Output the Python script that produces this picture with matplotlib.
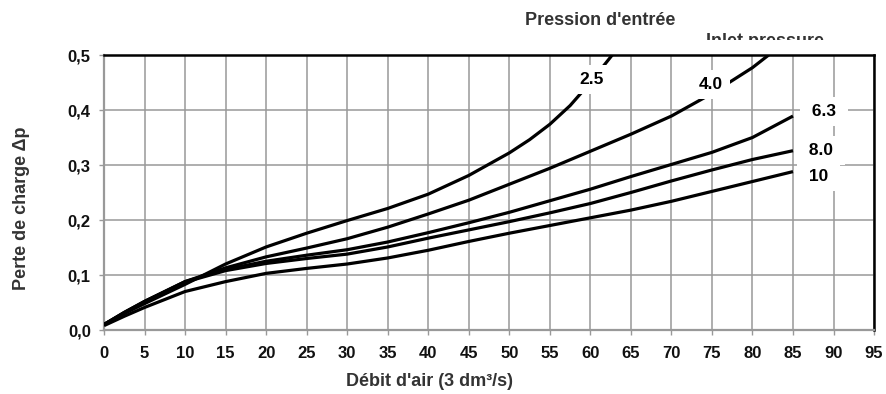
import matplotlib.pyplot as plt
from matplotlib.patches import Rectangle

# Perte de charge vs debit d'air, pour differentes pressions d'entree
x_25 = [0, 2.5, 5, 10, 15, 20, 25, 30, 35, 40, 45, 50, 52.5, 55, 57.5, 60, 62.7]
y_25 = [0.01, 0.03, 0.048, 0.083, 0.12, 0.151, 0.176, 0.199, 0.221, 0.247,
        0.281, 0.322, 0.346, 0.374, 0.408, 0.45, 0.5]

x_40 = [0, 2.5, 5, 10, 15, 20, 25, 30, 35, 40, 45, 50, 55, 60, 65, 70, 75, 80, 82]
y_40 = [0.01, 0.032, 0.052, 0.088, 0.113, 0.133, 0.149, 0.166, 0.187, 0.211,
        0.236, 0.265, 0.294, 0.325, 0.356, 0.389, 0.43, 0.477, 0.5]

x_63 = [0, 2.5, 5, 10, 15, 20, 25, 30, 35, 40, 45, 50, 55, 60, 65, 70, 75, 80, 85]
y_63 = [0.01, 0.032, 0.052, 0.088, 0.11, 0.125, 0.136, 0.146, 0.16, 0.177,
        0.195, 0.214, 0.235, 0.256, 0.279, 0.301, 0.323, 0.35, 0.389]

x_80 = [0, 2.5, 5, 10, 15, 20, 25, 30, 35, 40, 45, 50, 55, 60, 65, 70, 75, 80, 85]
y_80 = [0.01, 0.031, 0.051, 0.087, 0.108, 0.121, 0.13, 0.138, 0.151, 0.167,
        0.182, 0.197, 0.213, 0.23, 0.25, 0.271, 0.291, 0.31, 0.326]

x_10 = [0, 2.5, 5, 10, 15, 20, 25, 30, 35, 40, 45, 50, 55, 60, 65, 70, 75, 80, 85]
y_10 = [0.008, 0.025, 0.041, 0.07, 0.088, 0.103, 0.112, 0.12, 0.131, 0.145,
        0.161, 0.176, 0.19, 0.204, 0.218, 0.234, 0.252, 0.27, 0.288]

curve_labels = ["2.5", "4.0", "6.3", "8.0", "10"]
x_ticks = list(range(0, 100, 5))
y_ticks = [0.0, 0.1, 0.2, 0.3, 0.4, 0.5]
y_tick_labels = ["0,0", "0,1", "0,2", "0,3", "0,4", "0,5"]

plt.rcParams['font.family'] = ['Liberation Sans', 'DejaVu Sans']
plt.rcParams['font.weight'] = 'bold'

fig = plt.figure(figsize=(8.86, 3.94), dpi=100)
ax = fig.add_axes([0.1174, 0.1624, 0.8691, 0.698])

for xs, ys in [(x_25, y_25), (x_40, y_40), (x_63, y_63), (x_80, y_80), (x_10, y_10)]:
    ax.plot(xs, ys, color='black', lw=2.3, solid_capstyle='butt', zorder=3)

ax.set_xlim(0, 95)
ax.set_ylim(0, 0.5)
ax.set_xticks(x_ticks)
ax.set_yticks(y_ticks)
ax.set_yticklabels(y_tick_labels)
ax.grid(True, color='#999999', lw=1.1, zorder=1)
ax.set_axisbelow(True)
ax.tick_params(axis='both', length=3.5, width=1, color='#999999', pad=6,
               labelsize=12, labelcolor='#111111')
ax.tick_params(axis='x', pad=8)

for side in ['left', 'bottom']:
    ax.spines[side].set_color('#999999')
    ax.spines[side].set_linewidth(1.6)
for side in ['top', 'right']:
    ax.spines[side].set_color('black')
    ax.spines[side].set_linewidth(1.8)

# etiquettes des courbes, fond blanc qui coupe les lignes
box = dict(boxstyle='square,pad=0.4', fc='white', ec='none')
ax.text(60.2, 0.456, curve_labels[0], ha='center', va='center', fontsize=12.5,
        bbox=box, zorder=4)
ax.text(74.9, 0.447, curve_labels[1], ha='center', va='center', fontsize=12.5,
        bbox=box, zorder=4)
ax.text(88.8, 0.397, " " + curve_labels[2] + " ", ha='center', va='center',
        fontsize=12.5, bbox=box, zorder=4)
ax.text(88.5, 0.327, " " + curve_labels[3] + " ", ha='center', va='center',
        fontsize=12.5, bbox=box, zorder=4)
ax.text(88.1, 0.279, " " + curve_labels[4] + " ", ha='center', va='center',
        fontsize=12.5, bbox=box, zorder=4)

fig.text(0.024, 1 - 208 / 394, "Perte de charge Δp", rotation=90, ha='center',
         va='center', fontsize=13, color='#333333')
fig.text(430 / 886, 1 - 381 / 394, "Débit d'air (3 dm³/s)", ha='center', va='center',
         fontsize=13, color='#333333')
fig.text(600 / 886, 1 - 25 / 394, "Pression d'entrée", ha='center', va='baseline',
         fontsize=13, color='#333333')

# "Inlet pressure" a moitie cache, comme dans l'original
fig.text(765 / 886, 1 - 46 / 394, "Inlet pressure", ha='center', va='baseline',
         fontsize=13, color='#333333', zorder=3)
fig.patches.append(Rectangle((0.75, 1 - 54 / 394), 0.2, 14 / 394,
                             transform=fig.transFigure, fc='white', ec='none',
                             zorder=5, figure=fig))

fig.savefig("out.png", dpi=100)
